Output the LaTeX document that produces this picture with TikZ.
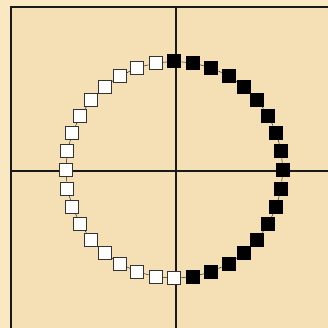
\documentclass[tikz,border=0pt]{standalone}
\usetikzlibrary{positioning}
\definecolor{parchment}{RGB}{245,224,182}
\definecolor{parchmentlight}{RGB}{250,232,194}
\tikzset{
  cell/.style={draw=black!80, line width=0.9pt, minimum size=13pt, inner sep=0pt},
  whitecell/.style={cell, fill=white},
  blackcell/.style={cell, fill=black, draw=black},
  link/.style={line width=0.5pt, black!85},
  rule/.style={line width=1.2pt, black!90}
}
\begin{document}
\begin{tikzpicture}[x=1pt,y=-1pt]
\useasboundingbox (0,0) rectangle (328,328);
\fill[parchmentlight] (0,0) rectangle (328,328);
\fill[parchment] (11,7) rectangle (328,328);
% frame and axes
\coordinate (corner) at (11,7);
\coordinate (top) at (176,7);
\coordinate (bottom) at (176,328);
\coordinate (left) at (11,171);
\coordinate (right) at (328,171);
\draw[rule] (11,328) -- (corner) -- (328,7);
\draw[rule] (top) -- (bottom);
\draw[rule] (left) -- (right);
% ring of cells
\foreach \i in {0,...,35}{
  \pgfmathsetmacro{\a}{10*\i}
  \ifnum\i<10 \def\kind{blackcell}\else\ifnum\i<28 \def\kind{whitecell}\else\def\kind{blackcell}\fi\fi
  \node[\kind] (c\i) at ({174.3+108.5*cos(\a)},{169.8-108.5*sin(\a)}) {};
}
\foreach \i in {0,...,35}{
  \pgfmathtruncatemacro{\j}{mod(\i+1,36)}
  \draw[link] (c\i) -- (c\j);
}
\end{tikzpicture}
\end{document}
